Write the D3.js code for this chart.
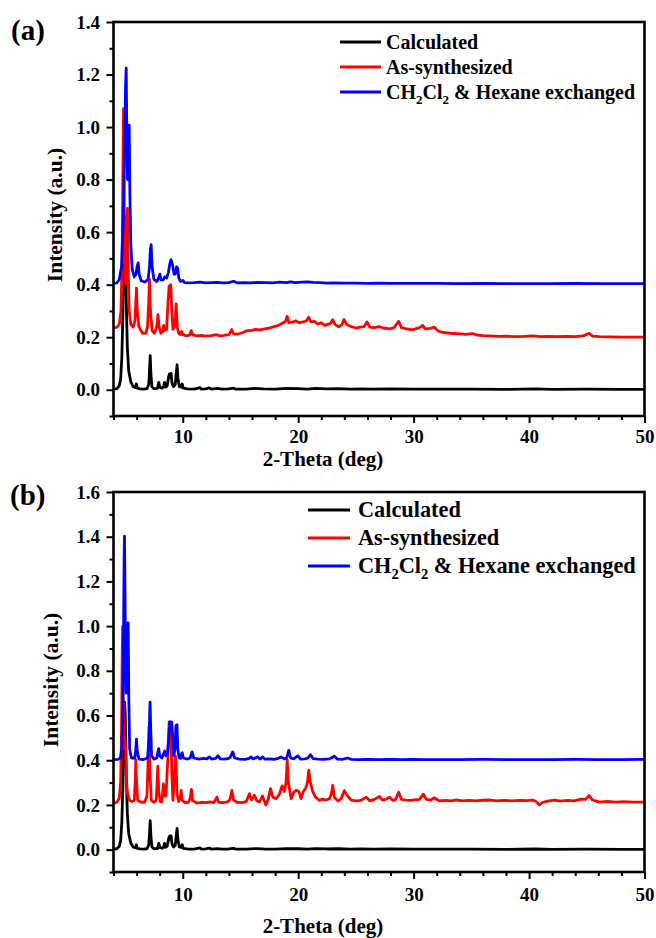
<!DOCTYPE html>
<html>
<head>
<meta charset="utf-8">
<script src="https://cdn.jsdelivr.net/npm/d3@7"></script>
<style>
  html, body { margin: 0; padding: 0; background: #fff; }
  svg { display: block; }
  text { font-family: "Liberation Serif", "Times New Roman", Times, serif; font-weight: bold; fill: #000; }
</style>
</head>
<body>
<svg id="chart" width="656" height="938"></svg>
<script>
// PXRD patterns, [2-theta (deg), intensity (a.u.)]
const calculated = [
  [4.0,0.002],[4.3,0.004],[4.5,0.015],[4.62,0.04],[4.72,0.12],[4.82,0.3],[4.89,0.55],[4.94,0.64],[4.97,0.66],
  [5.02,0.6],[5.1,0.35],[5.2,0.16],[5.32,0.07],[5.5,0.03],[5.7,0.012],[5.9,0.008],[5.98,0.022],[6.06,0.006],
  [6.3,0.003],[6.6,0.002],[6.9,0.004],[7.05,0.02],[7.13,0.08],[7.18,0.13],[7.24,0.06],[7.33,0.012],[7.5,0.004],
  [7.8,0.005],[7.92,0.028],[8.0,0.01],[8.2,0.006],[8.35,0.012],[8.42,0.028],[8.5,0.01],[8.65,0.015],[8.78,0.05],
  [8.85,0.06],[8.92,0.045],[8.99,0.062],[9.07,0.025],[9.2,0.012],[9.35,0.02],[9.45,0.07],[9.51,0.095],[9.58,0.045],
  [9.7,0.012],[9.85,0.01],[9.95,0.022],[10.05,0.006],[10.4,0.003],[11.0,0.002],[11.5,0.008],[11.6,0.002],[12.0,0.003],
  [12.3,0.007],[12.5,0.002],[13.0,0.005],[13.4,0.002],[14.0,0.003],[14.4,0.006],[14.6,0.002],[15.5,0.002],[16.2,0.005],
  [17.0,0.003],[18.0,0.002],[19.0,0.005],[20.0,0.004],[20.8,0.002],[21.5,0.005],[22.5,0.003],[23.5,0.004],[24.5,0.002],
  [25.5,0.003],[26.5,0.002],[28.0,0.003],[30.0,0.002],[32.0,0.002],[35.0,0.002],[38.0,0.001],[40.5,0.003],[42.0,0.001],
  [45.0,0.002],[48.0,0.001],[50.0,0.001]
];

const asSynthesizedA = [
  [4.05,0.235],[4.3,0.238],[4.5,0.25],[4.65,0.3],[4.75,0.5],[4.82,0.85],[4.87,1.07],[4.93,0.7],[5.0,0.45],[5.08,0.4],
  [5.15,0.55],[5.21,0.69],[5.28,0.45],[5.36,0.3],[5.5,0.25],[5.7,0.238],[5.85,0.26],[5.93,0.33],[5.99,0.387],[6.06,0.3],
  [6.2,0.24],[6.5,0.215],[6.8,0.215],[6.95,0.24],[7.05,0.33],[7.12,0.42],[7.2,0.3],[7.35,0.225],[7.55,0.215],[7.75,0.24],
  [7.85,0.286],[7.95,0.24],[8.1,0.215],[8.25,0.22],[8.35,0.245],[8.45,0.225],[8.6,0.23],[8.72,0.33],[8.82,0.394],[8.9,0.36],
  [8.96,0.4],[9.05,0.3],[9.15,0.23],[9.3,0.24],[9.43,0.327],[9.52,0.24],[9.65,0.215],[9.8,0.21],[9.9,0.222],[10.0,0.21],
  [10.3,0.205],[10.6,0.208],[10.73,0.225],[10.85,0.21],[11.2,0.205],[11.6,0.207],[12.0,0.204],[12.5,0.206],[12.9,0.21],
  [13.2,0.205],[13.6,0.207],[14.0,0.21],[14.24,0.229],[14.4,0.212],[14.8,0.212],[15.2,0.218],[15.6,0.225],[16.0,0.226],
  [16.3,0.23],[16.7,0.228],[17.1,0.232],[17.5,0.235],[17.9,0.24],[18.3,0.245],[18.7,0.255],[18.9,0.26],[19.04,0.279],
  [19.2,0.255],[19.5,0.258],[19.8,0.262],[20.1,0.255],[20.4,0.258],[20.7,0.262],[20.9,0.276],[21.1,0.258],[21.4,0.26],
  [21.7,0.25],[21.98,0.255],[22.3,0.245],[22.6,0.25],[22.8,0.252],[22.99,0.267],[23.2,0.248],[23.5,0.24],[23.8,0.248],
  [23.97,0.267],[24.2,0.248],[24.6,0.24],[25.0,0.235],[25.4,0.238],[25.7,0.24],[25.96,0.258],[26.2,0.238],[26.6,0.236],
  [27.0,0.24],[27.4,0.235],[27.9,0.232],[28.3,0.236],[28.7,0.26],[28.95,0.236],[29.4,0.232],[29.9,0.228],[30.3,0.234],
  [30.5,0.236],[30.78,0.245],[31.0,0.232],[31.4,0.234],[31.8,0.238],[32.1,0.224],[32.5,0.218],[33.0,0.216],[33.5,0.214],
  [34.0,0.213],[34.5,0.211],[35.1,0.214],[35.5,0.208],[36.0,0.206],[36.5,0.205],[37.4,0.203],[38.0,0.204],[38.7,0.202],
  [39.5,0.203],[40.3,0.205],[41.0,0.202],[41.7,0.203],[42.4,0.202],[43.2,0.203],[44.0,0.202],[44.7,0.205],[45.2,0.215],
  [45.5,0.204],[46.1,0.202],[47.0,0.201],[48.0,0.2],[49.0,0.2],[50.0,0.2]
];

const exchangedA = [
  [4.05,0.405],[4.3,0.407],[4.5,0.42],[4.7,0.47],[4.85,0.65],[4.97,0.95],[5.04,1.15],[5.1,1.224],[5.16,0.95],[5.22,0.8],
  [5.3,0.92],[5.36,1.007],[5.42,0.75],[5.5,0.55],[5.62,0.46],[5.8,0.43],[5.95,0.44],[6.05,0.47],[6.14,0.483],[6.22,0.44],
  [6.4,0.415],[6.7,0.41],[7.0,0.42],[7.12,0.47],[7.2,0.535],[7.26,0.552],[7.34,0.47],[7.5,0.42],[7.75,0.412],[7.9,0.425],
  [8.02,0.44],[8.12,0.418],[8.3,0.418],[8.45,0.43],[8.6,0.425],[8.75,0.445],[8.88,0.48],[8.98,0.495],[9.1,0.48],[9.25,0.44],
  [9.35,0.44],[9.47,0.468],[9.56,0.462],[9.66,0.425],[9.8,0.412],[10.0,0.416],[10.15,0.408],[10.5,0.407],[11.0,0.408],
  [11.5,0.41],[12.0,0.407],[12.5,0.408],[13.0,0.409],[13.5,0.407],[14.0,0.408],[14.4,0.413],[14.7,0.407],[15.3,0.408],
  [15.9,0.407],[16.5,0.409],[17.2,0.408],[17.8,0.407],[18.4,0.41],[19.0,0.408],[19.3,0.411],[19.8,0.408],[20.3,0.41],
  [20.8,0.411],[21.3,0.409],[22.0,0.408],[22.5,0.406],[23.0,0.407],[24.0,0.406],[25.0,0.406],[26.0,0.405],[27.0,0.406],
  [28.0,0.405],[30.0,0.405],[32.0,0.405],[34.0,0.404],[36.0,0.405],[38.0,0.404],[40.0,0.404],[42.0,0.404],[44.0,0.405],
  [46.0,0.404],[48.0,0.404],[50.0,0.404]
];

const asSynthesizedB = [
  [4.05,0.208],[4.3,0.212],[4.5,0.23],[4.62,0.3],[4.7,0.55],[4.76,0.9],[4.8,1.0],[4.85,0.6],[4.92,0.45],[4.98,0.504],
  [5.05,0.45],[5.12,0.3],[5.22,0.25],[5.4,0.22],[5.6,0.215],[5.8,0.22],[5.88,0.3],[5.93,0.4],[6.0,0.3],[6.1,0.22],
  [6.4,0.212],[6.7,0.212],[6.9,0.24],[7.0,0.4],[7.08,0.55],[7.15,0.35],[7.28,0.22],[7.5,0.212],[7.7,0.22],[7.78,0.3],
  [7.84,0.373],[7.92,0.26],[8.05,0.215],[8.2,0.215],[8.28,0.27],[8.33,0.295],[8.4,0.24],[8.55,0.24],[8.7,0.4],[8.82,0.571],
  [8.9,0.5],[8.97,0.56],[9.05,0.35],[9.15,0.22],[9.25,0.3],[9.35,0.42],[9.42,0.4],[9.5,0.25],[9.65,0.215],[9.78,0.23],
  [9.86,0.265],[9.95,0.22],[10.2,0.21],[10.5,0.212],[10.65,0.23],[10.75,0.27],[10.85,0.22],[11.2,0.208],[11.6,0.212],
  [12.0,0.21],[12.4,0.214],[12.7,0.21],[12.95,0.235],[13.1,0.212],[13.5,0.21],[13.9,0.214],[14.1,0.225],[14.25,0.265],
  [14.4,0.222],[14.7,0.212],[15.1,0.21],[15.5,0.215],[15.78,0.25],[15.95,0.222],[16.2,0.243],[16.4,0.22],[16.64,0.213],
  [16.9,0.24],[17.2,0.2],[17.4,0.225],[17.6,0.273],[17.8,0.235],[18.08,0.228],[18.35,0.245],[18.6,0.285],[18.8,0.26],
  [18.95,0.3],[19.05,0.4],[19.15,0.3],[19.39,0.228],[19.6,0.255],[19.82,0.265],[20.05,0.26],[20.25,0.228],[20.45,0.26],
  [20.63,0.273],[20.8,0.3],[20.92,0.355],[21.05,0.3],[21.26,0.26],[21.5,0.235],[21.84,0.22],[22.1,0.226],[22.4,0.222],
  [22.7,0.228],[22.88,0.25],[23.0,0.288],[23.12,0.235],[23.42,0.218],[23.7,0.226],[24.0,0.264],[24.2,0.245],[24.58,0.222],
  [25.0,0.218],[25.4,0.22],[25.9,0.235],[26.2,0.218],[26.6,0.225],[27.03,0.238],[27.3,0.222],[27.6,0.225],[27.9,0.235],
  [28.2,0.22],[28.45,0.225],[28.7,0.257],[28.95,0.225],[29.3,0.222],[29.77,0.22],[30.1,0.223],[30.5,0.225],[30.84,0.248],
  [31.1,0.225],[31.5,0.222],[31.8,0.232],[32.2,0.218],[32.8,0.22],[33.3,0.218],[33.7,0.223],[34.2,0.218],[34.8,0.22],
  [35.4,0.218],[36.0,0.221],[36.6,0.222],[37.2,0.218],[37.9,0.22],[38.5,0.218],[39.2,0.22],[39.8,0.219],[40.3,0.222],
  [40.6,0.215],[40.9,0.2],[41.2,0.212],[41.7,0.218],[42.2,0.222],[42.7,0.217],[43.3,0.22],[43.9,0.218],[44.5,0.226],
  [44.9,0.225],[45.2,0.242],[45.5,0.222],[46.1,0.213],[46.8,0.216],[47.5,0.213],[48.2,0.215],[49.0,0.213],[50.0,0.213]
];

const exchangedB = [
  [4.05,0.403],[4.4,0.404],[4.6,0.41],[4.72,0.45],[4.8,0.6],[4.87,0.95],[4.92,1.3],[4.95,1.402],[4.99,1.2],[5.05,0.8],
  [5.1,0.7],[5.16,0.85],[5.22,1.0],[5.27,1.015],[5.32,0.7],[5.4,0.45],[5.55,0.41],[5.85,0.41],[5.93,0.45],[5.99,0.494],
  [6.06,0.44],[6.2,0.405],[6.6,0.403],[6.95,0.41],[7.08,0.5],[7.13,0.6],[7.17,0.66],[7.22,0.55],[7.3,0.42],[7.5,0.405],
  [7.75,0.41],[7.86,0.44],[7.92,0.452],[8.0,0.42],[8.2,0.41],[8.35,0.43],[8.44,0.441],[8.55,0.42],[8.68,0.43],[8.78,0.5],
  [8.88,0.571],[9.05,0.57],[9.15,0.48],[9.22,0.42],[9.32,0.45],[9.41,0.555],[9.5,0.559],[9.57,0.45],[9.68,0.41],[9.8,0.408],
  [9.9,0.43],[9.95,0.434],[10.05,0.41],[10.4,0.405],[10.65,0.41],[10.8,0.437],[10.95,0.41],[11.4,0.405],[11.8,0.408],
  [12.1,0.406],[12.3,0.415],[12.5,0.405],[12.85,0.408],[13.05,0.42],[13.25,0.406],[13.6,0.405],[13.9,0.407],[14.1,0.412],
  [14.33,0.437],[14.5,0.41],[14.9,0.405],[15.4,0.404],[15.75,0.408],[15.92,0.415],[16.1,0.406],[16.5,0.415],[16.7,0.405],
  [16.93,0.415],[17.1,0.405],[17.5,0.406],[17.9,0.404],[18.2,0.407],[18.5,0.415],[18.8,0.406],[19.0,0.41],[19.18,0.444],
  [19.35,0.41],[19.6,0.406],[19.96,0.42],[20.2,0.405],[20.6,0.406],[20.85,0.41],[21.06,0.425],[21.3,0.407],[21.7,0.405],
  [22.2,0.404],[22.7,0.406],[23.13,0.418],[23.4,0.405],[23.8,0.404],[24.3,0.41],[24.6,0.404],[25.2,0.403],[26.0,0.404],
  [27.0,0.403],[28.0,0.404],[29.0,0.403],[30.0,0.404],[31.0,0.403],[32.0,0.403],[34.0,0.403],[36.0,0.404],[38.0,0.403],
  [40.0,0.403],[42.0,0.403],[44.0,0.404],[46.0,0.403],[48.0,0.403],[50.0,0.404]
];

const seriesNames = ["Calculated", "As-synthesized", "CH2Cl2 & Hexane exchanged"];
const seriesColors = ["#000000", "#ff0000", "#0000ff"];
const thetaDomain = [4, 50];
const thetaMajorTicks = [10, 20, 30, 40, 50];
const thetaMinorTicks = d3.range(4, 50.01, 2).filter(v => v % 10 !== 0);
const yTicksA = [0, 0.2, 0.4, 0.6, 0.8, 1.0, 1.2, 1.4];
const yTicksB = [0, 0.2, 0.4, 0.6, 0.8, 1.0, 1.2, 1.4, 1.6];
const yMinorA = [-0.1, 0.1, 0.3, 0.5, 0.7, 0.9, 1.1, 1.3];
const yMinorB = [-0.1, 0.1, 0.3, 0.5, 0.7, 0.9, 1.1, 1.3, 1.5];

const svg = d3.select("#chart");

const panels = [
  { tag: "(a)", tagX: 11, tagY: 40, top: 22, bottom: 416, yDomain: [-0.1, 1.4], yTicks: yTicksA, yMinor: yMinorA,
    data: [calculated, asSynthesizedA, exchangedA],
    xLabelPad: 6.5, xTitleY: 466, yTitleX: 62, yTitleY: 215,
    legend: { x1: 340, x2: 381, textX: 386, y0: 42, dy: 25, size: 20 } },
  { tag: "(b)", tagX: 10, tagY: 505, top: 492, bottom: 872, yDomain: [-0.1, 1.6], yTicks: yTicksB, yMinor: yMinorB,
    data: [calculated, asSynthesizedB, exchangedB],
    xLabelPad: 8.5, xTitleY: 933, yTitleX: 58, yTitleY: 680,
    legend: { x1: 308, x2: 350, textX: 358, y0: 510, dy: 28, size: 22.3 } }
];

const left = 113.5, right = 644.5;

panels.forEach(p => {
  const x = d3.scaleLinear().domain(thetaDomain).range([left, right]);
  const y = d3.scaleLinear().domain(p.yDomain).range([p.bottom, p.top]);
  const g = svg.append("g");

  // patterns, clipped to the frame
  const clipId = "clip" + p.tag.replace(/[()]/g, "");
  svg.append("clipPath").attr("id", clipId)
    .append("rect").attr("x", left).attr("y", p.top).attr("width", right - left).attr("height", p.bottom - p.top);
  const line = d3.line().x(d => x(d[0])).y(d => y(d[1]));
  const plot = g.append("g").attr("clip-path", `url(#${clipId})`);
  p.data.forEach((series, i) => {
    plot.append("path").datum(series)
      .attr("d", line)
      .attr("fill", "none")
      .attr("stroke", seriesColors[i])
      .attr("stroke-width", 2.8)
      .attr("stroke-linejoin", "round");
  });

  // axes
  const styleAxis = sel => {
    sel.select(".domain").remove();
    sel.selectAll(".tick line").attr("stroke", "#000").attr("stroke-width", 2);
    sel.selectAll("text").attr("font-size", 19).attr("fill", "#000");
  };
  g.append("g").attr("transform", `translate(${left},0)`)
    .call(d3.axisLeft(y).tickValues(p.yTicks).tickSize(7).tickPadding(6.5).tickFormat(d3.format(".1f")))
    .call(styleAxis);
  g.append("g").attr("transform", `translate(${left},0)`)
    .call(d3.axisLeft(y).tickValues(p.yMinor).tickSize(4).tickFormat(""))
    .call(styleAxis);
  g.append("g").attr("transform", `translate(0,${p.bottom})`)
    .call(d3.axisBottom(x).tickValues(thetaMajorTicks).tickSize(7).tickPadding(p.xLabelPad).tickFormat(d3.format("d")))
    .call(styleAxis);
  g.append("g").attr("transform", `translate(0,${p.bottom})`)
    .call(d3.axisBottom(x).tickValues(thetaMinorTicks).tickSize(4).tickFormat(""))
    .call(styleAxis);

  // frame
  g.append("rect").attr("x", left).attr("y", p.top).attr("width", right - left).attr("height", p.bottom - p.top)
    .attr("fill", "none").attr("stroke", "#000").attr("stroke-width", 2.6);

  // titles
  g.append("text").attr("x", 323).attr("y", p.xTitleY).attr("text-anchor", "middle")
    .attr("font-size", 21).text("2-Theta (deg)");
  g.append("text").attr("transform", `translate(${p.yTitleX},${p.yTitleY}) rotate(-90)`)
    .attr("text-anchor", "middle").attr("font-size", 21.5).text("Intensity (a.u.)");
  g.append("text").attr("x", p.tagX).attr("y", p.tagY).attr("font-size", 29).text(p.tag);

  // legend
  const L = p.legend;
  seriesNames.forEach((name, i) => {
    const ly = L.y0 + i * L.dy;
    g.append("line").attr("x1", L.x1).attr("x2", L.x2).attr("y1", ly).attr("y2", ly)
      .attr("stroke", seriesColors[i]).attr("stroke-width", 3);
    const t = g.append("text").attr("x", L.textX).attr("y", ly + L.size * 0.33).attr("font-size", L.size);
    if (name.startsWith("CH2Cl2")) {
      t.append("tspan").text("CH");
      t.append("tspan").attr("font-size", L.size * 0.65).attr("dy", L.size * 0.25).text("2");
      t.append("tspan").attr("dy", -L.size * 0.25).text("Cl");
      t.append("tspan").attr("font-size", L.size * 0.65).attr("dy", L.size * 0.25).text("2");
      t.append("tspan").attr("dy", -L.size * 0.25).text(" & Hexane exchanged");
    } else {
      t.text(name);
    }
  });
});
</script>
</body>
</html>
